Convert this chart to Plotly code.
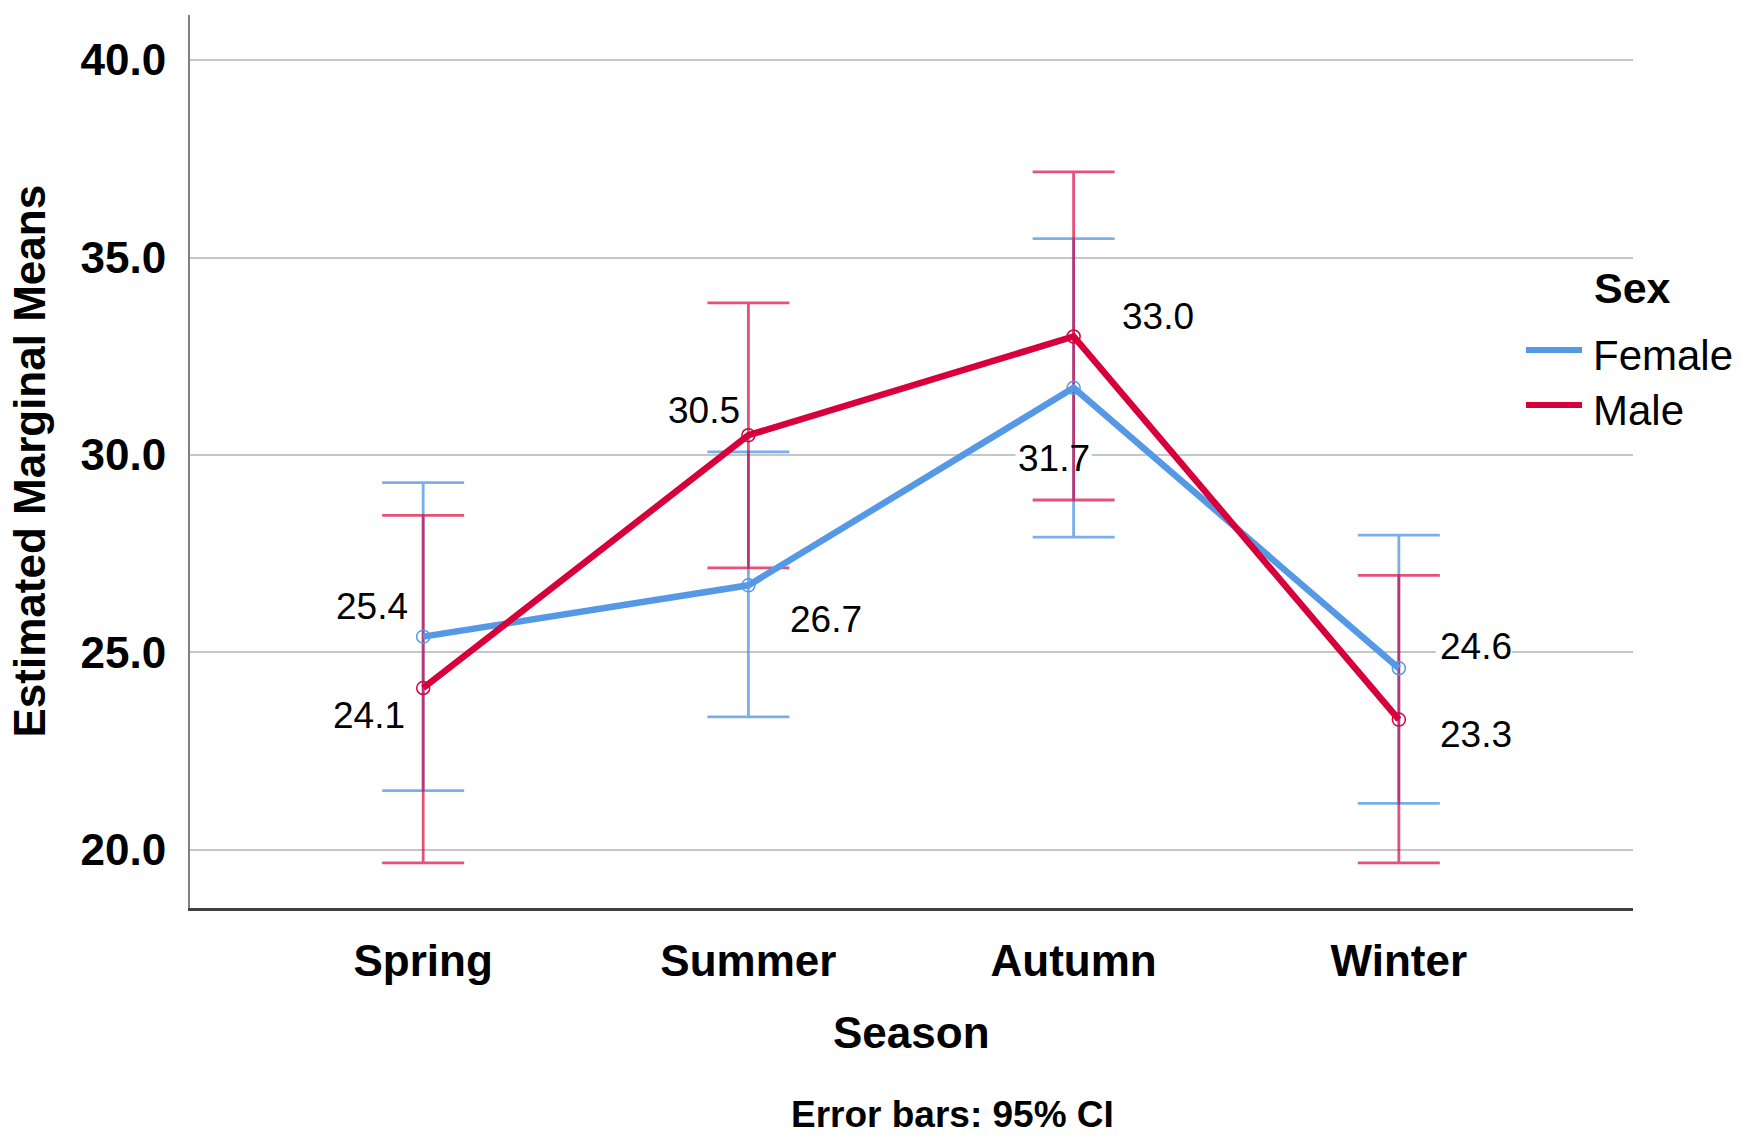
import plotly.graph_objects as go

seasons = ["Spring", "Summer", "Autumn", "Winter"]
female_mean = [25.4, 26.7, 31.7, 24.6]
female_lo = [21.5, 23.37, 27.92, 21.18]
female_hi = [29.3, 30.08, 35.48, 27.97]
male_mean = [24.1, 30.5, 33.0, 23.3]
male_lo = [19.67, 27.14, 28.86, 19.67]
male_hi = [28.47, 33.85, 37.17, 26.95]
female_labels = ["25.4", "26.7", "31.7", "24.6"]
male_labels = ["24.1", "30.5", "33.0", "23.3"]

BLUE = "#5599E6"
RED = "#D7003A"
BLUE_EB = "rgba(85,153,230,0.78)"
RED_EB = "rgba(215,0,58,0.68)"
FONT = "Liberation Sans, Arial, sans-serif"

x = list(range(len(seasons)))

fig = go.Figure()

for mean, lo, hi, col in [(female_mean, female_lo, female_hi, BLUE_EB),
                          (male_mean, male_lo, male_hi, RED_EB)]:
    fig.add_trace(go.Scatter(
        x=x, y=mean, mode="markers", marker=dict(size=1, opacity=0),
        error_y=dict(type="data", symmetric=False,
                     array=[h - m for h, m in zip(hi, mean)],
                     arrayminus=[m - l for m, l in zip(mean, lo)],
                     color=col, thickness=2.8, width=41),
        showlegend=False, hoverinfo="skip"))

for name, mean, col in [("Female", female_mean, BLUE), ("Male", male_mean, RED)]:
    fig.add_trace(go.Scatter(
        x=x, y=mean, mode="lines+markers", name=name,
        line=dict(color=col, width=6.5),
        marker=dict(symbol="circle-open", size=13, color=col, line=dict(width=1.5)),
        showlegend=False))

# data labels: (x index, value, text, xanchor, xshift, yshift)
label_specs = [
    (0, female_mean[0], female_labels[0], "right", -13, 30),
    (0, male_mean[0], male_labels[0], "right", -16, -27),
    (1, male_mean[1], male_labels[1], "right", -6, 25),
    (1, female_mean[1], female_labels[1], "left", 40, -34),
    (2, male_mean[2], male_labels[2], "left", 46, 20),
    (2, female_mean[2], female_labels[2], "center", -20, -71),
    (3, female_mean[3], female_labels[3], "left", 39, 22),
    (3, male_mean[3], male_labels[3], "left", 39, -15),
]

annotations = []
for xi, v, t, xa, xs, ys in label_specs:
    annotations.append(dict(x=xi, y=v, xref="x", yref="y", text=t, showarrow=False,
                            xanchor=xa, yanchor="middle", xshift=xs, yshift=ys,
                            font=dict(family=FONT, size=37, color="black")))

# white backgrounds (between gridlines and traces) for labels that cross gridlines
XPX = 325.0   # px per category
YPX = 39.5    # px per unit
shapes = []
for xi, v, t, xa, xs, ys in label_specs:
    if t in ("31.7", "24.6"):
        w = 76
        if xa == "left":
            x0p = xs - 2
        elif xa == "right":
            x0p = xs - w + 2
        else:
            x0p = xs - w / 2
        shapes.append(dict(type="rect", xref="x", yref="y", layer="between",
                           x0=xi + x0p / XPX, x1=xi + (x0p + w) / XPX,
                           y0=v + (ys - 16) / YPX, y1=v + (ys + 16) / YPX,
                           fillcolor="white", line=dict(width=0)))

# manual legend
def px2paper_x(px):
    return (px - 190) / (1633 - 190)

def px2paper_y(py):
    return (908 - py) / (908 - 15)

for name, col, ly in [("Female", BLUE, 350), ("Male", RED, 405)]:
    shapes.append(dict(type="line", xref="paper", yref="paper",
                       x0=px2paper_x(1526), x1=px2paper_x(1582),
                       y0=px2paper_y(ly), y1=px2paper_y(ly),
                       line=dict(color=col, width=6)))
    annotations.append(dict(x=px2paper_x(1591), y=px2paper_y(ly + 6), xref="paper", yref="paper",
                            text=name, showarrow=False, xanchor="left", yanchor="middle",
                            font=dict(family=FONT, size=42, color="black")))
annotations.append(dict(x=px2paper_x(1592), y=px2paper_y(288), xref="paper", yref="paper",
                        text="<b>Sex</b>", showarrow=False, xanchor="left", yanchor="middle",
                        font=dict(family=FONT, size=43, color="black")))

# axis titles and footnote
annotations.append(dict(x=0, y=0.5, xref="paper", yref="paper", xshift=-161,
                        text="<b>Estimated Marginal Means</b>", textangle=-90, showarrow=False,
                        xanchor="center", yanchor="middle",
                        font=dict(family=FONT, size=44, color="black")))
annotations.append(dict(x=0.5, y=0, xref="paper", yref="paper", yshift=-124,
                        text="<b>Season</b>", showarrow=False, xanchor="center", yanchor="middle",
                        font=dict(family=FONT, size=44, color="black")))
annotations.append(dict(x=px2paper_x(952), y=0, xref="paper", yref="paper", yshift=-206,
                        text="<b>Error bars: 95% CI</b>", showarrow=False,
                        xanchor="center", yanchor="middle",
                        font=dict(family=FONT, size=37, color="black")))

fig.update_layout(
    width=1749, height=1146,
    margin=dict(l=190, r=116, t=15, b=238),
    paper_bgcolor="white", plot_bgcolor="white",
    showlegend=False,
    annotations=annotations, shapes=shapes,
)

fig.update_xaxes(
    range=[-0.717, 3.72], tickvals=x, ticktext=seasons,
    tickfont=dict(family=FONT, size=44, color="black", weight="bold"),
    showgrid=False, zeroline=False, showline=True, linecolor="#404040", linewidth=2.5,
    ticks="", ticklabelstandoff=12,
)
fig.update_yaxes(
    range=[18.53, 41.14], tickvals=[20, 25, 30, 35, 40], tickformat=".1f",
    tickfont=dict(family=FONT, size=44, color="black", weight="bold"),
    showgrid=True, gridcolor="#C6C6C6", gridwidth=2, zeroline=False,
    showline=True, linecolor="#808080", linewidth=2,
    ticks="", ticklabelstandoff=13,
)

fig.write_html("out.html",
               config={"displayModeBar": False},
               post_script="document.body.style.margin='0px';document.body.style.overflow='hidden';")
